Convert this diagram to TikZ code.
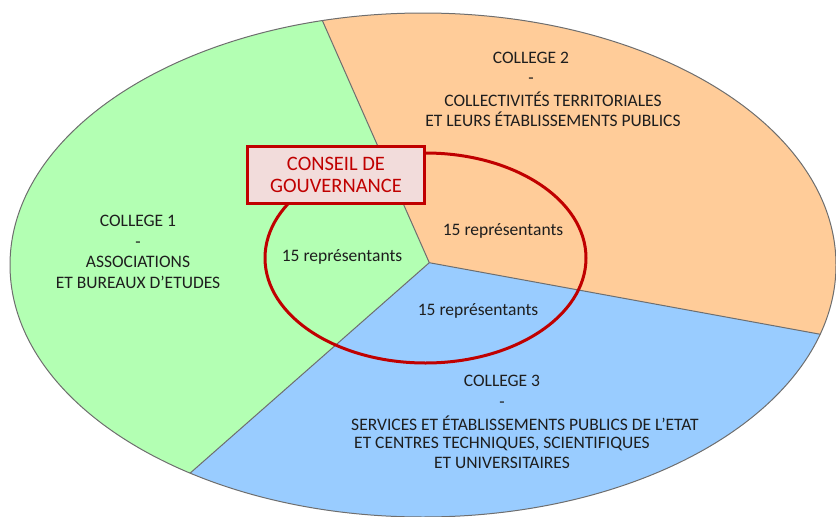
\documentclass[tikz,border=0pt]{standalone}
\usepackage{fontspec}
\setmainfont{Carlito}
\definecolor{cgreen}{RGB}{179,255,179}
\definecolor{corange}{RGB}{255,204,153}
\definecolor{cblue}{RGB}{153,204,255}
\definecolor{cred}{RGB}{192,0,0}
\definecolor{cpink}{RGB}{242,220,219}
\definecolor{ctext}{RGB}{30,30,30}
\definecolor{cedge}{RGB}{110,110,110}
\begin{document}
\begin{tikzpicture}[x=1pt,y=-1pt,
  edge/.style={draw=cedge,line width=1pt},
  lbl/.style={inner sep=0pt,align=center,text=ctext,font=\fontsize{17.5}{20.5}\selectfont},
  ring/.style={draw=cred,line width=3pt},
  govbox/.style={draw=cred,fill=cpink,line width=3pt,minimum width=176.5pt,minimum height=57pt,
    inner sep=0pt,align=center,text=cred,font=\fontsize{20.5}{22.5}\selectfont}]
\useasboundingbox (0,0) rectangle (836,517);
\coordinate (C) at (429.3,262.7);
\coordinate (E1) at (216.7,-218.7);
\coordinate (E2) at (1219.3,407.3);
\coordinate (E3) at (-53.3,687.3);
\begin{scope}
  \clip (423,265) ellipse [x radius=413pt, y radius=252pt];
  \fill[cgreen] (C) -- (E1) -- (-300,-300) -- (-300,800) -- (E3) -- cycle;
  \fill[corange] (C) -- (E1) -- (1300,-300) -- (1300,407.3) -- (E2) -- cycle;
  \fill[cblue] (C) -- (E2) -- (1300,800) -- (-300,800) -- (E3) -- cycle;
  \draw[edge] (C) -- (E1);
  \draw[edge] (C) -- (E2);
  \draw[edge] (C) -- (E3);
\end{scope}
\draw[edge] (423,265) ellipse [x radius=413pt, y radius=252pt];

\node[lbl] (c1) at (138,252) {COLLEGE 1\\-\\ASSOCIATIONS\\ET BUREAUX D’ETUDES};
\node[lbl] (c2t) at (531,68) {COLLEGE 2\\-};
\node[lbl] (c2d) at (553,109.5) {COLLECTIVITÉS TERRITORIALES\\ET LEURS ÉTABLISSEMENTS PUBLICS};
\node[lbl] (c3t) at (502,391.5) {COLLEGE 3\\-};
\node[lbl] (c3a) at (525,423) {SERVICES ET ÉTABLISSEMENTS PUBLICS DE L’ETAT};
\node[lbl] (c3b) at (502,453) {ET CENTRES TECHNIQUES, SCIENTIFIQUES\\ET UNIVERSITAIRES};

\draw[ring] (425.5,258) ellipse [x radius=160.5pt, y radius=105pt];

\node[lbl] (r1) at (342,257) {15 représentants};
\node[lbl] (r2) at (503,230.5) {15 représentants};
\node[lbl] (r3) at (478,311) {15 représentants};

\node[govbox] (cg) at (336,175) {CONSEIL DE\\GOUVERNANCE};
\end{tikzpicture}
\end{document}
